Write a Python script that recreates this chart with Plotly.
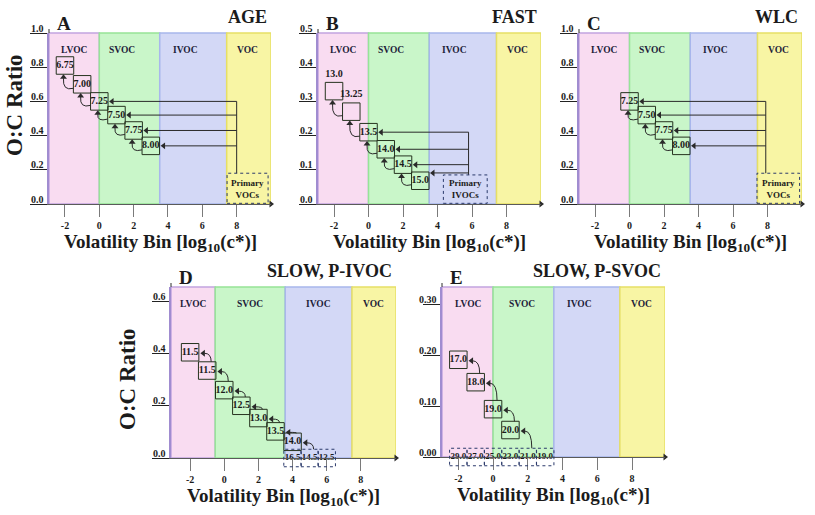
import plotly.graph_objects as go

W, H = 815, 515
SERIF = "Liberation Serif, Times New Roman, serif"
INK = "#1b1b1b"
BOX_INK = "#26331f"
DOT_INK = "#2b3a6b"
ARROW_INK = "#2a2a2a"

# ---------------- data ----------------
REGIONS = ["LVOC", "SVOC", "IVOC", "VOC"]
XTICKS = [-2, 0, 2, 4, 6, 8]

A_labels = ["6.75", "7.00", "7.25", "7.50", "7.75", "8.00"]
A_bins = [-2, -1, 0, 1, 2, 3]
A_oc = [0.81, 0.70, 0.60, 0.52, 0.43, 0.34]
A_fed = ["7.25", "7.50", "7.75", "8.00"]
A_yticks = [0.0, 0.2, 0.4, 0.6, 0.8, 1.0]

B_labels = ["13.0", "13.25", "13.5", "14.0", "14.5", "15.0"]
B_bins = [-2, -1, 0, 1, 2, 3]
B_oc = [0.33, 0.27, 0.21, 0.16, 0.115, 0.068]
B_fed = ["13.5", "14.0", "14.5", "15.0"]
B_yticks = [0.0, 0.1, 0.2, 0.3, 0.4, 0.5]

C_labels = ["7.25", "7.50", "7.75", "8.00"]
C_bins = [0, 1, 2, 3]
C_oc = [0.60, 0.52, 0.43, 0.34]
C_fed = ["7.25", "7.50", "7.75", "8.00"]
C_yticks = [0.0, 0.2, 0.4, 0.6, 0.8, 1.0]

D_labels = ["11.5", "11.5", "12.0", "12.5", "13.0", "13.5", "14.0"]
D_bins = [-2, -1, 0, 1, 2, 3, 4]
D_oc = [0.405, 0.335, 0.26, 0.20, 0.153, 0.102, 0.062]
D_primary_labels = ["16.5", "14.5", "12.5"]
D_primary_bins = [4, 5, 6]
D_yticks = [0.0, 0.2, 0.4, 0.6]

E_labels = ["17.0", "18.0", "19.0", "20.0"]
E_bins = [-2, -1, 0, 1]
E_oc = [0.191, 0.147, 0.094, 0.053]
E_primary_labels = ["29.0", "27.0", "25.0", "23.0", "21.0", "19.0"]
E_primary_bins = [-2, -1, 0, 1, 2, 3]
E_yticks = [0.0, 0.1, 0.2, 0.3]

# ---------------- styling / layout ----------------
REGION_FILL = ["#f9dcf1", "#c9f6c9", "#d3d8f6", "#f8f5a4"]
REGION_EDGE = ["#c2a4df", "#97e497", "#a8b6ec", "#e6df66"]
BOX_PX = 17.5
HEAD_PX = 6
TOP_LABX = [-1.45, 1.3, 5.0, 8.63]

panels = [
    dict(letter="A", name="AGE", labels=A_labels, bins=A_bins, oc=A_oc, yticks=A_yticks, fmt=".1f",
         px=(49, 271), py=(33, 204), xr=(-2.93, 10.0), yr=(0, 1.0), edges=(0, 3.52, 7.42), labx=TOP_LABX,
         style="func", fed=A_fed, src=8.0, pbox=(7.44, 9.83, 0.18), ptext="Primary<br>VOCs", outside=0),
    dict(letter="B", name="FAST", labels=B_labels, bins=B_bins, oc=B_oc, yticks=B_yticks, fmt=".1f",
         px=(318, 541), py=(33, 204), xr=(-2.93, 10.0), yr=(0, 0.5), edges=(0, 3.52, 7.42), labx=TOP_LABX,
         style="func", fed=B_fed, src=5.8, pbox=(4.34, 6.88, 0.085), ptext="Primary<br>IVOCs", outside=2),
    dict(letter="C", name="WLC", labels=C_labels, bins=C_bins, oc=C_oc, yticks=C_yticks, fmt=".1f",
         px=(579, 802), py=(33, 204), xr=(-2.93, 10.0), yr=(0, 1.0), edges=(0, 3.52, 7.42), labx=TOP_LABX,
         style="func", fed=C_fed, src=7.9, pbox=(7.39, 9.86, 0.18), ptext="Primary<br>VOCs", outside=0),
    dict(letter="D", name="SLOW, P-IVOC", labels=D_labels, bins=D_bins, oc=D_oc, yticks=D_yticks, fmt=".1f",
         px=(171, 396), py=(287, 458), xr=(-3.12, 10.06), yr=(0, 0.655), edges=(-0.53, 3.57, 7.48),
         labx=[-1.83, 1.52, 5.52, 8.77],
         style="frag", plabels=D_primary_labels, pbins=D_primary_bins, outside=0),
    dict(letter="E", name="SLOW, P-SVOC", labels=E_labels, bins=E_bins, oc=E_oc, yticks=E_yticks, fmt=".2f",
         px=(442, 665), py=(287, 457), xr=(-2.94, 9.9), yr=(0, 0.334), edges=(0, 3.5, 7.3),
         labx=[-1.4, 1.65, 5.0, 8.55],
         style="frag", plabels=E_primary_labels, pbins=E_primary_bins, outside=0),
]


def bold(size, color=INK):
    return dict(family=SERIF, size=size, color=color, weight="bold")


def seg(xa, ya, x0, y0, x1, y1):
    return dict(type="line", xref=xa, yref=ya, x0=x0, y0=y0, x1=x1, y1=y1,
                line=dict(color=ARROW_INK, width=1))


fig = go.Figure()
shapes, anns, layout = [], [], {}

for k, p in enumerate(panels):
    n = "" if k == 0 else str(k + 1)
    xa, ya = "x" + n, "y" + n
    (px0, px1), (py0, py1) = p["px"], p["py"]
    x0, x1 = p["xr"]
    y0, y1 = p["yr"]
    ppx = (px1 - px0) / (x1 - x0)
    ppy = (py1 - py0) / (y1 - y0)
    bw = BOX_PX / ppx / 2
    bh = BOX_PX / ppy / 2
    hr = HEAD_PX / 2

    layout["xaxis" + n] = dict(
        domain=[px0 / W, px1 / W], range=[x0, x1], anchor=ya,
        tickmode="array", tickvals=XTICKS, ticktext=[str(v) for v in XTICKS],
        ticks="outside", ticklen=12, tickcolor="#7a7a7a", tickwidth=1,
        showline=True, linecolor="#5a5a5a", linewidth=1,
        showgrid=False, zeroline=False, tickfont=bold(10), fixedrange=True)
    layout["yaxis" + n] = dict(
        domain=[1 - py1 / H, 1 - py0 / H], range=[y0, y1], anchor=xa,
        tickmode="array", tickvals=p["yticks"], showticklabels=False,
        ticks="outside", ticklen=17, tickcolor="#222222", tickwidth=1,
        showline=True, linecolor="#a08cd0", linewidth=1.5,
        showgrid=False, zeroline=False, fixedrange=True)
    # y tick labels sit on top of their tick lines
    for v in p["yticks"]:
        anns.append(dict(xref=xa + " domain", yref=ya, x=-3 / (px1 - px0), y=v, yshift=5,
                         xanchor="right", yanchor="middle", text=format(v, p["fmt"]),
                         showarrow=False, font=bold(10)))

    # volatility regions
    edges = [x0] + list(p["edges"]) + [x1]
    for r in range(4):
        shapes.append(dict(type="rect", xref=xa, yref=ya + " domain", x0=edges[r], x1=edges[r + 1],
                           y0=0, y1=1, fillcolor=REGION_FILL[r],
                           line=dict(color=REGION_EDGE[r], width=1.5), layer="below"))
        anns.append(dict(xref=xa, yref=ya + " domain", x=p["labx"][r], y=0.94, text=REGIONS[r],
                         showarrow=False, font=bold(9.5, "#1d1d3a")))

    # arrowheads (markers) collected per panel
    hx, hy, hs = [], [], []

    # axis arrows: y axis extends above the frame, x axis to the right
    shapes.append(dict(type="line", xref=xa + " domain", yref=ya + " domain", x0=0, x1=0,
                       y0=1, y1=1 + 4 / (py1 - py0), line=dict(color=ARROW_INK, width=1)))
    hx.append(x0); hy.append(y1 + (7 - hr) / ppy); hs.append("triangle-up")
    hx.append(x1 + (3 - hr) / ppx); hy.append(0); hs.append("triangle-right")

    # boxes (markers through axis scales) with their labels
    labels, bins, oc = p["labels"], p["bins"], p["oc"]
    tpos = ["top center" if i < p["outside"] else "middle center" for i in range(len(labels))]
    fig.add_trace(go.Scatter(
        x=bins, y=oc, xaxis=xa, yaxis=ya, mode="markers+text", text=labels, textposition=tpos,
        marker=dict(symbol="square-open", size=BOX_PX, color=BOX_INK, line=dict(width=1, color=BOX_INK)),
        textfont=bold(10), cliponaxis=False, hoverinfo="skip", showlegend=False))

    if p["style"] == "func":
        # curved arrows: lower box -> upper box (pointing up)
        for i in range(len(bins) - 1):
            xu, yu = bins[i], oc[i]
            xl, yl = bins[i + 1], oc[i + 1]
            sx, sy = xl - bw, yl - 4 / ppy
            ex, ey = xu - 1.5 / ppx, yu - bh
            tail = ey - (hr + 1) / ppy
            cx, cy = ex - 1 / ppx, sy - 3 / ppy
            shapes.append(dict(type="path", xref=xa, yref=ya,
                               path=f"M{sx},{sy} Q{cx},{cy} {ex},{tail}",
                               line=dict(color=ARROW_INK, width=1)))
            hx.append(ex); hy.append(ey - hr / ppy); hs.append("triangle-up")
        # arrows from primary emissions
        pl, pr, ptop = p["pbox"]
        levels = []
        for lab, b, v in zip(labels, bins, oc):
            if lab in p["fed"]:
                lev = max(v, ptop + 2 / ppy)
                levels.append(lev)
                tip = b + bw + 1 / ppx
                shapes.append(seg(xa, ya, p["src"], lev, tip + hr / ppx, lev))
                hx.append(tip + hr / ppx); hy.append(lev); hs.append("triangle-left")
        shapes.append(seg(xa, ya, p["src"], max(levels), p["src"], ptop))
        shapes.append(dict(type="rect", xref=xa, yref=ya, x0=pl, x1=pr, y0=0.004 * y1, y1=ptop,
                           line=dict(color=DOT_INK, width=1, dash="dot")))
        anns.append(dict(xref=xa, yref=ya, x=(pl + pr) / 2, y=ptop / 2, text=p["ptext"],
                         showarrow=False, font=bold(9)))
    else:
        # primary precursor cells on the axis
        half = BOX_PX / 2 / (py1 - py0)
        for b in p["pbins"]:
            shapes.append(dict(type="rect", xref=xa, yref=ya + " domain", x0=b - bw, x1=b + bw,
                               y0=-half, y1=half, line=dict(color=DOT_INK, width=1, dash="dot")))
        fig.add_trace(go.Scatter(
            x=p["pbins"], y=[0] * len(p["pbins"]), xaxis=xa, yaxis=ya, mode="text",
            text=p["plabels"], textposition="middle center", textfont=bold(9),
            cliponaxis=False, hoverinfo="skip", showlegend=False))
        # curved arrows: lower item -> upper box (pointing left)
        seq_x = list(bins) + [bins[-1] + 1]
        seq_y = list(oc) + [0.0]
        for i in range(len(bins)):
            xu, yu = bins[i], oc[i]
            xl, yl = seq_x[i + 1], seq_y[i + 1]
            sx, sy = xl + 4 / ppx, yl + bh
            ex, ey = xu + bw + 1.5 / ppx, yu - 1 / ppy
            tail = ex + (hr + 1) / ppx
            shapes.append(dict(type="path", xref=xa, yref=ya,
                               path=f"M{sx},{sy} Q{sx},{ey} {tail},{ey}",
                               line=dict(color=ARROW_INK, width=1)))
            hx.append(ex + hr / ppx); hy.append(ey); hs.append("triangle-left")

    fig.add_trace(go.Scatter(
        x=hx, y=hy, xaxis=xa, yaxis=ya, mode="markers",
        marker=dict(symbol=hs, size=HEAD_PX, color=ARROW_INK, line=dict(width=0)),
        cliponaxis=False, hoverinfo="skip", showlegend=False))

    # panel letter and scenario name
    anns.append(dict(xref="paper", yref="paper", x=(px0 + 6) / W, y=1 - (py0 - 9.5) / H,
                     xanchor="left", yanchor="middle", text=p["letter"], showarrow=False, font=bold(19)))
    anns.append(dict(xref="paper", yref="paper", x=(px1 - 2) / W, y=1 - (py0 - 16) / H,
                     xanchor="right", yanchor="middle", text=p["name"], showarrow=False, font=bold(18)))
    # x title
    anns.append(dict(xref="paper", yref="paper", x=(px0 + px1) / 2 / W, y=1 - (py1 + 39) / H,
                     xanchor="center", yanchor="middle", text="Volatility Bin [log<sub>10</sub>(c*)]",
                     showarrow=False, font=bold(19)))

# y titles
anns.append(dict(xref="paper", yref="paper", x=14 / W, y=1 - 105 / H, text="O:C Ratio", textangle=-90,
                 showarrow=False, xanchor="center", yanchor="middle", font=bold(23)))
anns.append(dict(xref="paper", yref="paper", x=127 / W, y=1 - 379 / H, text="O:C Ratio", textangle=-90,
                 showarrow=False, xanchor="center", yanchor="middle", font=bold(23)))

fig.update_layout(
    width=W, height=H, margin=dict(l=0, r=0, t=0, b=0),
    paper_bgcolor="white", plot_bgcolor="rgba(0,0,0,0)",
    shapes=shapes, annotations=anns, showlegend=False, **layout)

fig.write_html("out.html", config={"displayModeBar": False},
               post_script="document.body.style.margin='0px';")
